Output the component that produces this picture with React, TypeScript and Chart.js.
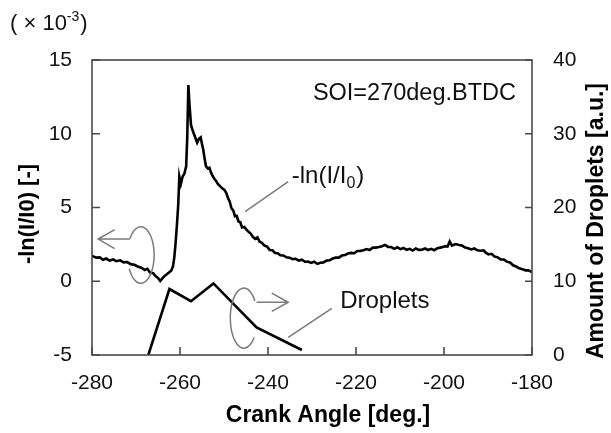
import React, { useEffect, useRef } from "react";
import { Chart, registerables } from "chart.js";

Chart.register(...registerables);

// -ln(I/I0) (x 10^-3) versus crank angle
const lnAngles = [
  -280, -279, -278.2, -277.5, -276.8, -276, -275.2, -274.5, -273.6, -272.8,
  -272, -271.2, -270.4, -269.6, -268.8, -268, -267.4, -266.8, -266.1, -265.5,
  -265, -264.5, -264, -263.5, -263, -262.5, -262, -261.6, -261.3, -261.0,
  -260.7, -260.4, -260.15, -259.8, -259.4, -259.0, -258.6, -258.35, -258.1, -257.85,
  -257.5, -257.1, -256.6, -256.1, -255.7, -255.3, -255.0, -254.7, -254.4, -254.1,
  -253.7, -253.3, -253.0, -252.6, -252.2, -251.8, -251.4, -250.9, -250.4, -249.9,
  -249.5, -249.1, -248.7, -248.3, -247.9, -247.5, -247.1, -246.7, -246.3, -245.9,
  -245.4, -244.9, -244.4, -243.9, -243.4, -242.9, -242.4, -241.9, -241.4, -240.8,
  -240.2, -239.6, -239.0, -238.4, -237.8, -237.2, -236.5, -235.8, -235.1, -234.4,
  -233.7, -233.0, -232.3, -231.6, -230.9, -230.2, -229.5, -228.8, -228.1, -227.4,
  -226.7, -226.0, -225.3, -224.6, -223.9, -223.2, -222.5, -221.8, -221.1, -220.4,
  -219.7, -219.0, -218.3, -217.6, -216.9, -216.2, -215.5, -214.8, -214.1, -213.4,
  -212.7, -212.0, -211.3, -210.6, -209.9, -209.2, -208.5, -207.8, -207.1, -206.4,
  -205.7, -205.0, -204.3, -203.6, -202.9, -202.2, -201.5, -200.8, -200.1, -199.6,
  -199.2, -198.7, -198.2, -197.3, -196.6, -195.9, -195.2, -194.5, -193.8, -193.1,
  -192.4, -191.7, -191.0, -190.5, -189.9, -189.2, -188.5, -187.8, -187.1, -186.4,
  -185.7, -185.0, -184.3, -183.6, -182.9, -182.2, -181.5, -180.8, -180.0,
];
const lnValues = [
  1.72, 1.6, 1.62, 1.46, 1.54, 1.4, 1.48, 1.36, 1.42, 1.28,
  1.3, 1.16, 1.12, 1.0, 0.92, 0.76, 0.84, 0.58, 0.54, 0.33,
  0.22, 0.02, 0.2, 0.36, 0.48, 0.6, 0.72, 1.0, 1.6, 2.6,
  3.8, 5.2, 7.1, 6.6, 7.1, 7.3, 7.8, 9.8, 13.3, 12.0,
  10.6, 10.2, 9.8, 9.4, 9.65, 9.75, 9.3, 8.9, 8.3, 7.8,
  7.65, 7.7, 7.4, 7.15, 6.95, 6.8, 6.6, 6.45, 6.3, 6.2,
  6.0, 5.65, 5.4, 4.95, 4.8, 4.4, 4.42, 4.05, 4.0, 3.65,
  3.68, 3.5, 3.35, 3.22, 3.0, 2.88, 2.98, 2.68, 2.6, 2.42,
  2.35, 2.12, 2.1, 1.92, 1.9, 1.76, 1.75, 1.62, 1.6, 1.5,
  1.52, 1.4, 1.46, 1.32, 1.34, 1.24, 1.32, 1.18, 1.26, 1.28,
  1.4, 1.42, 1.54, 1.6, 1.6, 1.74, 1.78, 1.88, 1.92, 1.9,
  2.05, 2.06, 2.1, 2.18, 2.12, 2.28, 2.28, 2.32, 2.38, 2.46,
  2.33, 2.32, 2.2, 2.3, 2.18, 2.26, 2.13, 2.2, 2.08, 2.22,
  2.13, 2.14, 2.22, 2.12, 2.2, 2.1, 2.24, 2.28, 2.34, 2.38,
  2.36, 2.7, 2.42, 2.52, 2.46, 2.42, 2.28, 2.24, 2.16, 2.22,
  2.1, 2.07, 2.1, 1.94, 1.82, 1.86, 1.68, 1.62, 1.48, 1.47,
  1.33, 1.27, 1.08, 1.0, 0.88, 0.82, 0.74, 0.74, 0.62,
];

// Amount of droplets [a.u.]
const dropAngles = [-267.2, -262.4, -257.5, -252.4, -242.6, -232.3];
const dropAmounts = [0, 8.95, 7.3, 9.7, 3.75, 0.68];

const xTicks = [-280, -260, -240, -220, -200, -180];
const yLeftTicks = [-5, 0, 5, 10, 15];
const yRightTicks = [0, 10, 20, 30, 40];

const FONT = "'Liberation Sans', Arial, sans-serif";

const overlay = {
  id: "overlay",
  afterDraw(chart: any) {
    const { ctx, chartArea: a, scales } = chart;
    const x = scales.x;
    const y = scales.y;
    const y1 = scales.y1;
    const P = (ang: number, v: number) => [x.getPixelForValue(ang), y.getPixelForValue(v)];
    const P1 = (ang: number, v: number) => [x.getPixelForValue(ang), y1.getPixelForValue(v)];
    ctx.save();

    // frame
    ctx.strokeStyle = "#4a4a4a";
    ctx.lineWidth = 1.6;
    ctx.strokeRect(a.left, a.top, a.right - a.left, a.bottom - a.top);

    // inward ticks
    ctx.beginPath();
    xTicks.forEach((t) => {
      const px = x.getPixelForValue(t);
      ctx.moveTo(px, a.bottom);
      ctx.lineTo(px, a.bottom - 8);
    });
    yLeftTicks.forEach((t) => {
      const py = y.getPixelForValue(t);
      ctx.moveTo(a.left, py);
      ctx.lineTo(a.left + 8, py);
    });
    yRightTicks.forEach((t) => {
      const py = y1.getPixelForValue(t);
      ctx.moveTo(a.right, py);
      ctx.lineTo(a.right - 7, py);
    });
    ctx.stroke();

    // annotation shapes
    ctx.strokeStyle = "#7a7a7a";
    ctx.lineWidth = 1.5;
    const deg = Math.PI / 180;

    // left loop + arrow
    const [lcx, lcy] = P(-268.9, 1.78);
    ctx.beginPath();
    ctx.ellipse(lcx, lcy, 13.3, 28.3, 0, -145 * deg, 151 * deg, false);
    ctx.stroke();
    const [la0x] = P(-271.4, 2.86);
    const [la1x, la1y] = P(-278.6, 2.86);
    ctx.beginPath();
    ctx.moveTo(la0x, la1y);
    ctx.lineTo(la1x, la1y);
    ctx.moveTo(la1x + 16.5, la1y - 9.5);
    ctx.lineTo(la1x, la1y);
    ctx.lineTo(la1x + 16.5, la1y + 9.5);
    ctx.stroke();

    // right loop + arrow
    const [rcx, rcy] = P1(-245.5, 5.0);
    ctx.beginPath();
    ctx.ellipse(rcx, rcy, 13.5, 30, 0, 40 * deg, 325 * deg, false);
    ctx.stroke();
    const [ra0x] = P1(-242.6, 7.15);
    const [ra1x, ra1y] = P1(-235.4, 7.15);
    ctx.beginPath();
    ctx.moveTo(ra0x, ra1y);
    ctx.lineTo(ra1x, ra1y);
    ctx.moveTo(ra1x - 16.5, ra1y - 9.2);
    ctx.lineTo(ra1x, ra1y);
    ctx.lineTo(ra1x - 16.5, ra1y + 9.2);
    ctx.stroke();

    // leader lines
    ctx.beginPath();
    const [l0x, l0y] = P(-245.2, 4.72);
    const [l1x, l1y] = P(-235.4, 6.75);
    ctx.moveTo(l0x, l0y);
    ctx.lineTo(l1x, l1y);
    const [d0x, d0y] = P1(-235.4, 2.4);
    const [d1x, d1y] = P1(-225.5, 6.33);
    ctx.moveTo(d0x, d0y);
    ctx.lineTo(d1x, d1y);
    ctx.stroke();

    // in-plot texts
    ctx.fillStyle = "#111";
    ctx.textBaseline = "middle";
    ctx.textAlign = "left";
    ctx.font = `23.5px ${FONT}`;
    const [sx, sy] = P(-229.8, 12.76);
    ctx.fillText("SOI=270deg.BTDC", sx, sy);

    const [tx, ty] = P(-234.6, 7.09);
    ctx.font = `24px ${FONT}`;
    const part1 = "-ln(I/I";
    ctx.fillText(part1, tx, ty);
    let cx = tx + ctx.measureText(part1).width;
    ctx.font = `16px ${FONT}`;
    ctx.fillText("0", cx, ty + 7);
    cx += ctx.measureText("0").width + 1;
    ctx.font = `24px ${FONT}`;
    ctx.fillText(")", cx, ty);

    const [dx, dy] = P1(-223.6, 7.23);
    ctx.fillText("Droplets", dx, dy);

    // multiplier label
    ctx.textBaseline = "alphabetic";
    ctx.font = `22px ${FONT}`;
    let mx = 10;
    const my = 30;
    ctx.fillText("(", mx, my);
    mx += ctx.measureText("( ").width;
    ctx.fillText("\u00d7", mx, my);
    mx += ctx.measureText("\u00d7 ").width;
    ctx.fillText("10", mx, my);
    mx += ctx.measureText("10").width;
    ctx.font = `14px ${FONT}`;
    ctx.fillText("-3", mx, my - 9);
    mx += ctx.measureText("-3").width + 1;
    ctx.font = `22px ${FONT}`;
    ctx.fillText(")", mx, my);

    // axis titles
    ctx.fillStyle = "#000";
    ctx.textAlign = "center";
    ctx.textBaseline = "middle";
    ctx.font = `bold 23px ${FONT}`;
    ctx.fillText("Crank Angle [deg.]", 328, 416);

    ctx.save();
    ctx.translate(28, 214);
    ctx.rotate(-Math.PI / 2);
    ctx.font = `bold 22px ${FONT}`;
    ctx.fillText("-ln(I/I0) [-]", 0, 0);
    ctx.restore();

    ctx.save();
    ctx.translate(597, 221);
    ctx.rotate(-Math.PI / 2);
    ctx.font = `bold 23px ${FONT}`;
    ctx.fillText("Amount of Droplets [a.u.]", 0, 0);
    ctx.restore();

    ctx.restore();
  },
};

export default function App() {
  const ref = useRef<HTMLCanvasElement | null>(null);

  useEffect(() => {
    document.body.style.margin = "0";
    if (!ref.current) return;
    const lnData = lnAngles.map((a, i) => ({ x: a, y: lnValues[i] }));
    const dropData = dropAngles.map((a, i) => ({ x: a, y: dropAmounts[i] }));
    const tickFont = { family: FONT, size: 21 };
    const chart = new Chart(ref.current, {
      type: "line",
      data: {
        datasets: [
          {
            label: "-ln(I/I0)",
            data: lnData,
            yAxisID: "y",
            borderColor: "#000",
            borderWidth: 2.6,
            pointRadius: 0,
            tension: 0,
            fill: false,
          },
          {
            label: "Droplets",
            data: dropData,
            yAxisID: "y1",
            borderColor: "#000",
            borderWidth: 2.6,
            pointRadius: 0,
            tension: 0,
            fill: false,
          },
        ],
      },
      options: {
        animation: false,
        responsive: false,
        maintainAspectRatio: false,
        events: [],
        layout: { padding: { top: 60, left: 0, right: 0, bottom: 0 } },
        plugins: { legend: { display: false }, tooltip: { enabled: false } },
        scales: {
          x: {
            type: "linear",
            min: -280,
            max: -180,
            afterBuildTicks: (s: any) => {
              s.ticks = xTicks.map((v) => ({ value: v }));
            },
            afterFit: (s: any) => {
              s.height = 78;
            },
            grid: { display: false, drawTicks: false },
            border: { display: false },
            ticks: { font: tickFont, color: "#111", padding: 16, maxRotation: 0 },
          },
          y: {
            type: "linear",
            position: "left",
            min: -5,
            max: 15,
            afterBuildTicks: (s: any) => {
              s.ticks = yLeftTicks.map((v) => ({ value: v }));
            },
            afterFit: (s: any) => {
              s.width = 92;
            },
            grid: { display: false, drawTicks: false },
            border: { display: false },
            ticks: { font: tickFont, color: "#111", padding: 20 },
          },
          y1: {
            type: "linear",
            position: "right",
            min: 0,
            max: 40,
            afterBuildTicks: (s: any) => {
              s.ticks = yRightTicks.map((v) => ({ value: v }));
            },
            afterFit: (s: any) => {
              s.width = 79;
            },
            grid: { display: false, drawTicks: false },
            border: { display: false },
            ticks: { font: tickFont, color: "#111", padding: 21 },
          },
        },
      },
      plugins: [overlay],
    });
    return () => chart.destroy();
  }, []);

  return (
    <div style={{ position: "absolute", left: 0, top: 0, width: 611, height: 433, background: "#fff" }}>
      <canvas ref={ref} width={611} height={433} style={{ display: "block" }} />
    </div>
  );
}
